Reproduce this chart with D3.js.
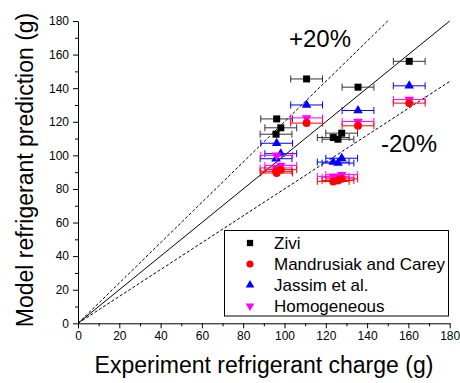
<!DOCTYPE html>
<html>
<head>
<meta charset="utf-8">
<script src="https://cdn.jsdelivr.net/npm/d3@7"></script>
<style>
  body { margin: 0; background: #fff; }
  text { font-family: "Liberation Sans", Arial, sans-serif; }
</style>
</head>
<body>
<script>
// experiment charge (g) for each test point
var expCharge = [96.2, 98.2, 95.9, 110.7, 123.6, 125.9, 127.7, 135.6, 160.4];
var zivi = [121.7, 116.4, 112.6, 145.5, 110.6, 109.6, 113.2, 140.6, 156];
var mandrusiak = [89.5, 91.5, 90.5, 119.2, 84.5, 85, 86, 117.6, 131.1];
var jassim = [107.2, 101, 98, 130, 96, 95.4, 98.3, 126.7, 141.4];
var homogeneous = [100, 94, 92.5, 122.3, 87.5, 87, 88.5, 120.2, 133.2];
var xErr = 7.7;
var tickValues = [0, 20, 40, 60, 80, 100, 120, 140, 160, 180];
var seriesNames = ["Zivi", "Mandrusiak and Carey", "Jassim et al.", "Homogeneous"];

var w = 460, h = 383;
var margin = {left: 78, right: 10, top: 21, bottom: 60};

var svg = d3.select("body").append("svg")
    .attr("width", w)
    .attr("height", h);

var x = d3.scaleLinear().domain([0, 180]).range([margin.left, 449.7]);
var y = d3.scaleLinear().domain([0, 180]).range([323.3, margin.top]);

// axes: major ticks every 20, minor every 10
var minor = d3.range(10, 180, 20);
svg.append("g").attr("transform", "translate(0,323.3)")
    .call(d3.axisBottom(x).tickValues(minor).tickSize(3).tickFormat(""))
    .call(g => g.select(".domain").remove());
svg.append("g").attr("transform", "translate(" + margin.left + ",0)")
    .call(d3.axisLeft(y).tickValues(minor).tickSize(3).tickFormat(""))
    .call(g => g.select(".domain").remove());

var xAxis = svg.append("g").attr("transform", "translate(0,323.3)")
    .call(d3.axisBottom(x).tickValues(tickValues).tickSize(5).tickSizeOuter(0).tickPadding(3));
var yAxis = svg.append("g").attr("transform", "translate(" + margin.left + ",0)")
    .call(d3.axisLeft(y).tickValues(tickValues).tickSize(5).tickSizeOuter(0).tickPadding(4));
svg.selectAll(".tick text").attr("font-size", 12).attr("font-family", "Liberation Sans, Arial, sans-serif").attr("fill", "#000");
svg.selectAll(".domain, .tick line").attr("stroke", "#000");

// reference lines
svg.append("line").attr("x1", x(0)).attr("y1", y(0)).attr("x2", x(180)).attr("y2", y(180))
    .attr("stroke", "#000").attr("stroke-width", 1);
svg.append("line").attr("x1", x(0)).attr("y1", y(0)).attr("x2", x(150)).attr("y2", y(180))
    .attr("stroke", "#000").attr("stroke-width", 1).attr("stroke-dasharray", "3,2");
svg.append("line").attr("x1", x(0)).attr("y1", y(0)).attr("x2", x(180)).attr("y2", y(144))
    .attr("stroke", "#000").attr("stroke-width", 1).attr("stroke-dasharray", "3,2");

svg.append("text").attr("x", 289).attr("y", 47).attr("font-size", 24).text("+20%");
svg.append("text").attr("x", 381).attr("y", 152).attr("font-size", 24).text("-20%");

// series
var series = [
  {name: seriesNames[0], vals: zivi, color: "#000", bar: "#333", sym: d3.symbolSquare, size: 49, rot: 0},
  {name: seriesNames[2], vals: jassim, color: "#0000ff", bar: "#0000ff", sym: d3.symbolTriangle, size: 40, rot: 0},
  {name: seriesNames[3], vals: homogeneous, color: "#ff00ff", bar: "#ff00ff", sym: d3.symbolTriangle, size: 40, rot: 180},
  {name: seriesNames[1], vals: mandrusiak, color: "#ff0000", bar: "#ff0000", sym: d3.symbolCircle, size: 50, rot: 0}
];

series.forEach(function(s) {
  var g = svg.append("g");
  var pts = expCharge.map(function(d, i) { return {x: d, y: s.vals[i]}; });
  g.selectAll(".eb").data(pts).enter().append("line")
      .attr("x1", d => x(d.x - xErr)).attr("x2", d => x(d.x + xErr))
      .attr("y1", d => y(d.y)).attr("y2", d => y(d.y))
      .attr("stroke", s.bar).attr("stroke-width", 1);
  [-xErr, xErr].forEach(function(e) {
    g.selectAll(".cap").data(pts).enter().append("line")
        .attr("x1", d => x(d.x + e)).attr("x2", d => x(d.x + e))
        .attr("y1", d => y(d.y) - 3.5).attr("y2", d => y(d.y) + 3.5)
        .attr("stroke", s.bar).attr("stroke-width", 1);
  });
  g.selectAll("path").data(pts).enter().append("path")
      .attr("d", d3.symbol().type(s.sym).size(s.size))
      .attr("transform", d => "translate(" + x(d.x) + "," + y(d.y) + ") rotate(" + s.rot + ")")
      .attr("fill", s.color);
});

// legend
svg.append("rect").attr("x", 224.5).attr("y", 230.5).attr("width", 224).attr("height", 85.5)
    .attr("fill", "none").attr("stroke", "#000").attr("stroke-width", 1);
var legendItems = [series[0], series[3], series[1], series[2]];
legendItems.forEach(function(s, i) {
  var ly = 243 + i * 21;
  svg.append("path")
      .attr("d", d3.symbol().type(s.sym).size(s.size * 0.8))
      .attr("transform", "translate(250," + ly + ") rotate(" + s.rot + ")")
      .attr("fill", s.color);
  svg.append("text").attr("x", 274).attr("y", ly + 6).attr("font-size", 17).text(s.name);
});

// axis titles
svg.append("text").attr("x", 264).attr("y", 373).attr("text-anchor", "middle")
    .attr("font-size", 23).text("Experiment refrigerant charge (g)");
svg.append("text").attr("transform", "translate(33,170) rotate(-90)").attr("text-anchor", "middle")
    .attr("font-size", 23).text("Model refrigerant prediction (g)");
</script>
</body>
</html>
